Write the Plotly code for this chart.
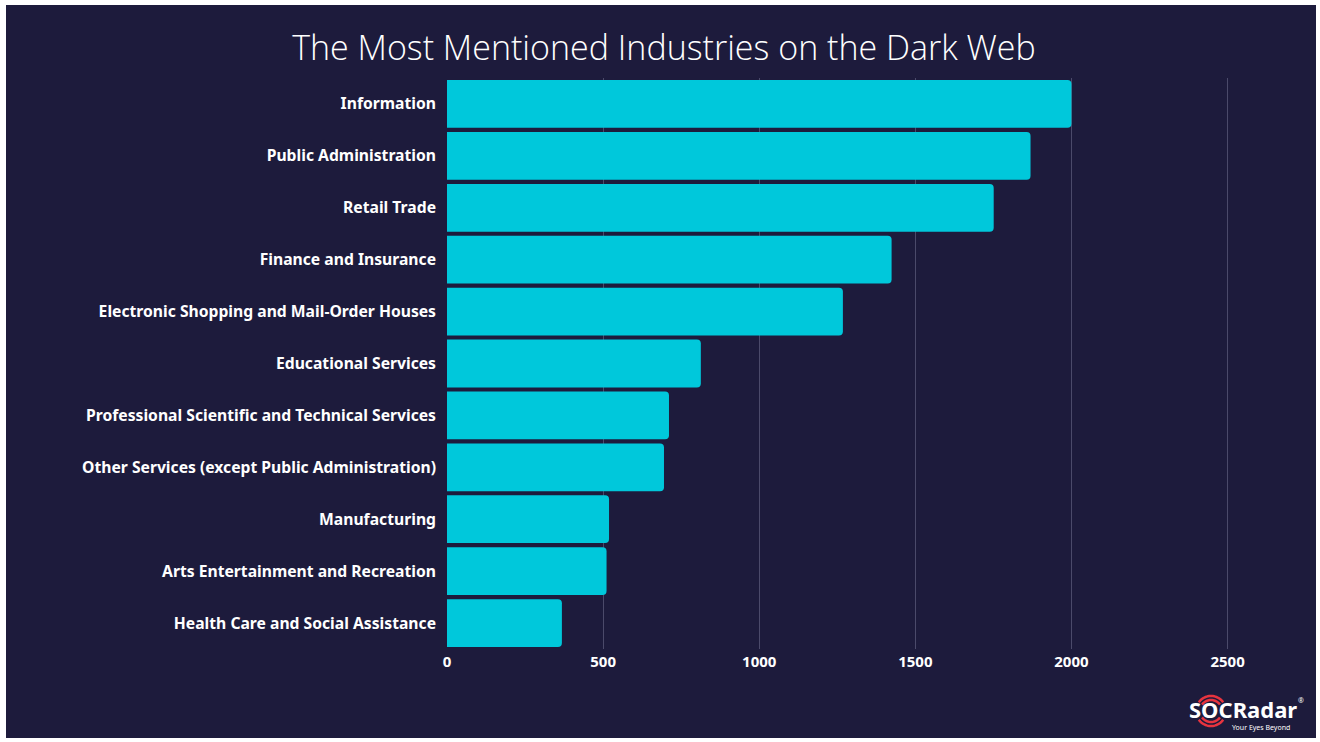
import numpy as np
import plotly.graph_objects as go

categories = [
    "Information",
    "Public Administration",
    "Retail Trade",
    "Finance and Insurance",
    "Electronic Shopping and Mail-Order Houses",
    "Educational Services",
    "Professional Scientific and Technical Services",
    "Other Services (except Public Administration)",
    "Manufacturing",
    "Arts Entertainment and Recreation",
    "Health Care and Social Assistance",
]
values = [2000, 1869, 1751, 1424, 1268, 813, 711, 695, 519, 511, 368]
tick_vals = [0, 500, 1000, 1500, 2000, 2500]

W, H = 1320, 742
ML, MR, MT, MB = 447, 30, 78, 93
PW = W - ML - MR
PH = H - MT - MB

BG = "#1d1b3c"
CYAN = "#00c8db"


def px(x):
    return (x - ML) / PW


def py(y):
    return (H - MB - y) / PH


fig = go.Figure()
fig.add_trace(go.Bar(
    x=values,
    y=categories,
    orientation="h",
    marker=dict(color=CYAN, line=dict(width=0)),
    hoverinfo="x+y",
))

shapes = [
    dict(type="rect", xref="paper", yref="paper", layer="below",
         x0=px(6), x1=px(1316), y0=py(738), y1=py(5),
         fillcolor=BG, line=dict(width=0)),
]

# radar arcs of the logo (above and below the "O")
cx, cy = 1211, 711
for r in (11, 15):
    for centre in (-np.pi / 2, np.pi / 2):
        ang = np.linspace(centre - 0.95, centre + 0.95, 24)
        xs = cx + r * np.cos(ang)
        ys = cy + r * np.sin(ang)
        path = "M " + " L ".join(f"{px(a):.5f},{py(b):.5f}" for a, b in zip(xs, ys))
        shapes.append(dict(type="path", xref="paper", yref="paper", path=path,
                           line=dict(color="#e8343f", width=2.5)))

annotations = [
    dict(text="SOCRadar", x=px(1243), y=py(709), xref="paper", yref="paper",
         showarrow=False, xanchor="center", yanchor="middle",
         font=dict(family="Noto Sans", size=22, color="white", weight="bold")),
    dict(text="Your Eyes Beyond", x=px(1292), y=py(727), xref="paper", yref="paper",
         showarrow=False, xanchor="right", yanchor="middle",
         font=dict(family="Noto Sans", size=7, color="white")),
    dict(text="®", x=px(1301), y=py(700), xref="paper", yref="paper",
         showarrow=False, xanchor="center", yanchor="middle",
         font=dict(family="Noto Sans", size=7, color="white")),
]

fig.update_layout(
    width=W, height=H,
    margin=dict(l=ML, r=MR, t=MT, b=MB),
    paper_bgcolor="white",
    plot_bgcolor=BG,
    bargap=0.08,
    barcornerradius=4,
    showlegend=False,
    title=dict(
        text="The Most Mentioned Industries on the Dark Web",
        x=0.503, xref="container", xanchor="center",
        y=1 - 48 / H, yref="container", yanchor="middle",
        font=dict(family="Open Sans", size=34, color="white", weight=300),
    ),
    xaxis=dict(
        range=[0, 2700],
        tickvals=tick_vals,
        ticktext=[str(v) for v in tick_vals],
        showgrid=True, gridcolor="#4b4a6a", gridwidth=1,
        zeroline=False, showline=False,
        tickfont=dict(family="Noto Sans", size=15, color="white", weight="bold"),
        ticklabelstandoff=2,
    ),
    yaxis=dict(
        autorange="reversed",
        showgrid=False, zeroline=False, showline=False,
        tickfont=dict(family="Noto Sans", size=15.7, color="white", weight="bold"),
        ticklabelstandoff=10,
    ),
    shapes=shapes,
    annotations=annotations,
)

fig.write_html("out.html")
